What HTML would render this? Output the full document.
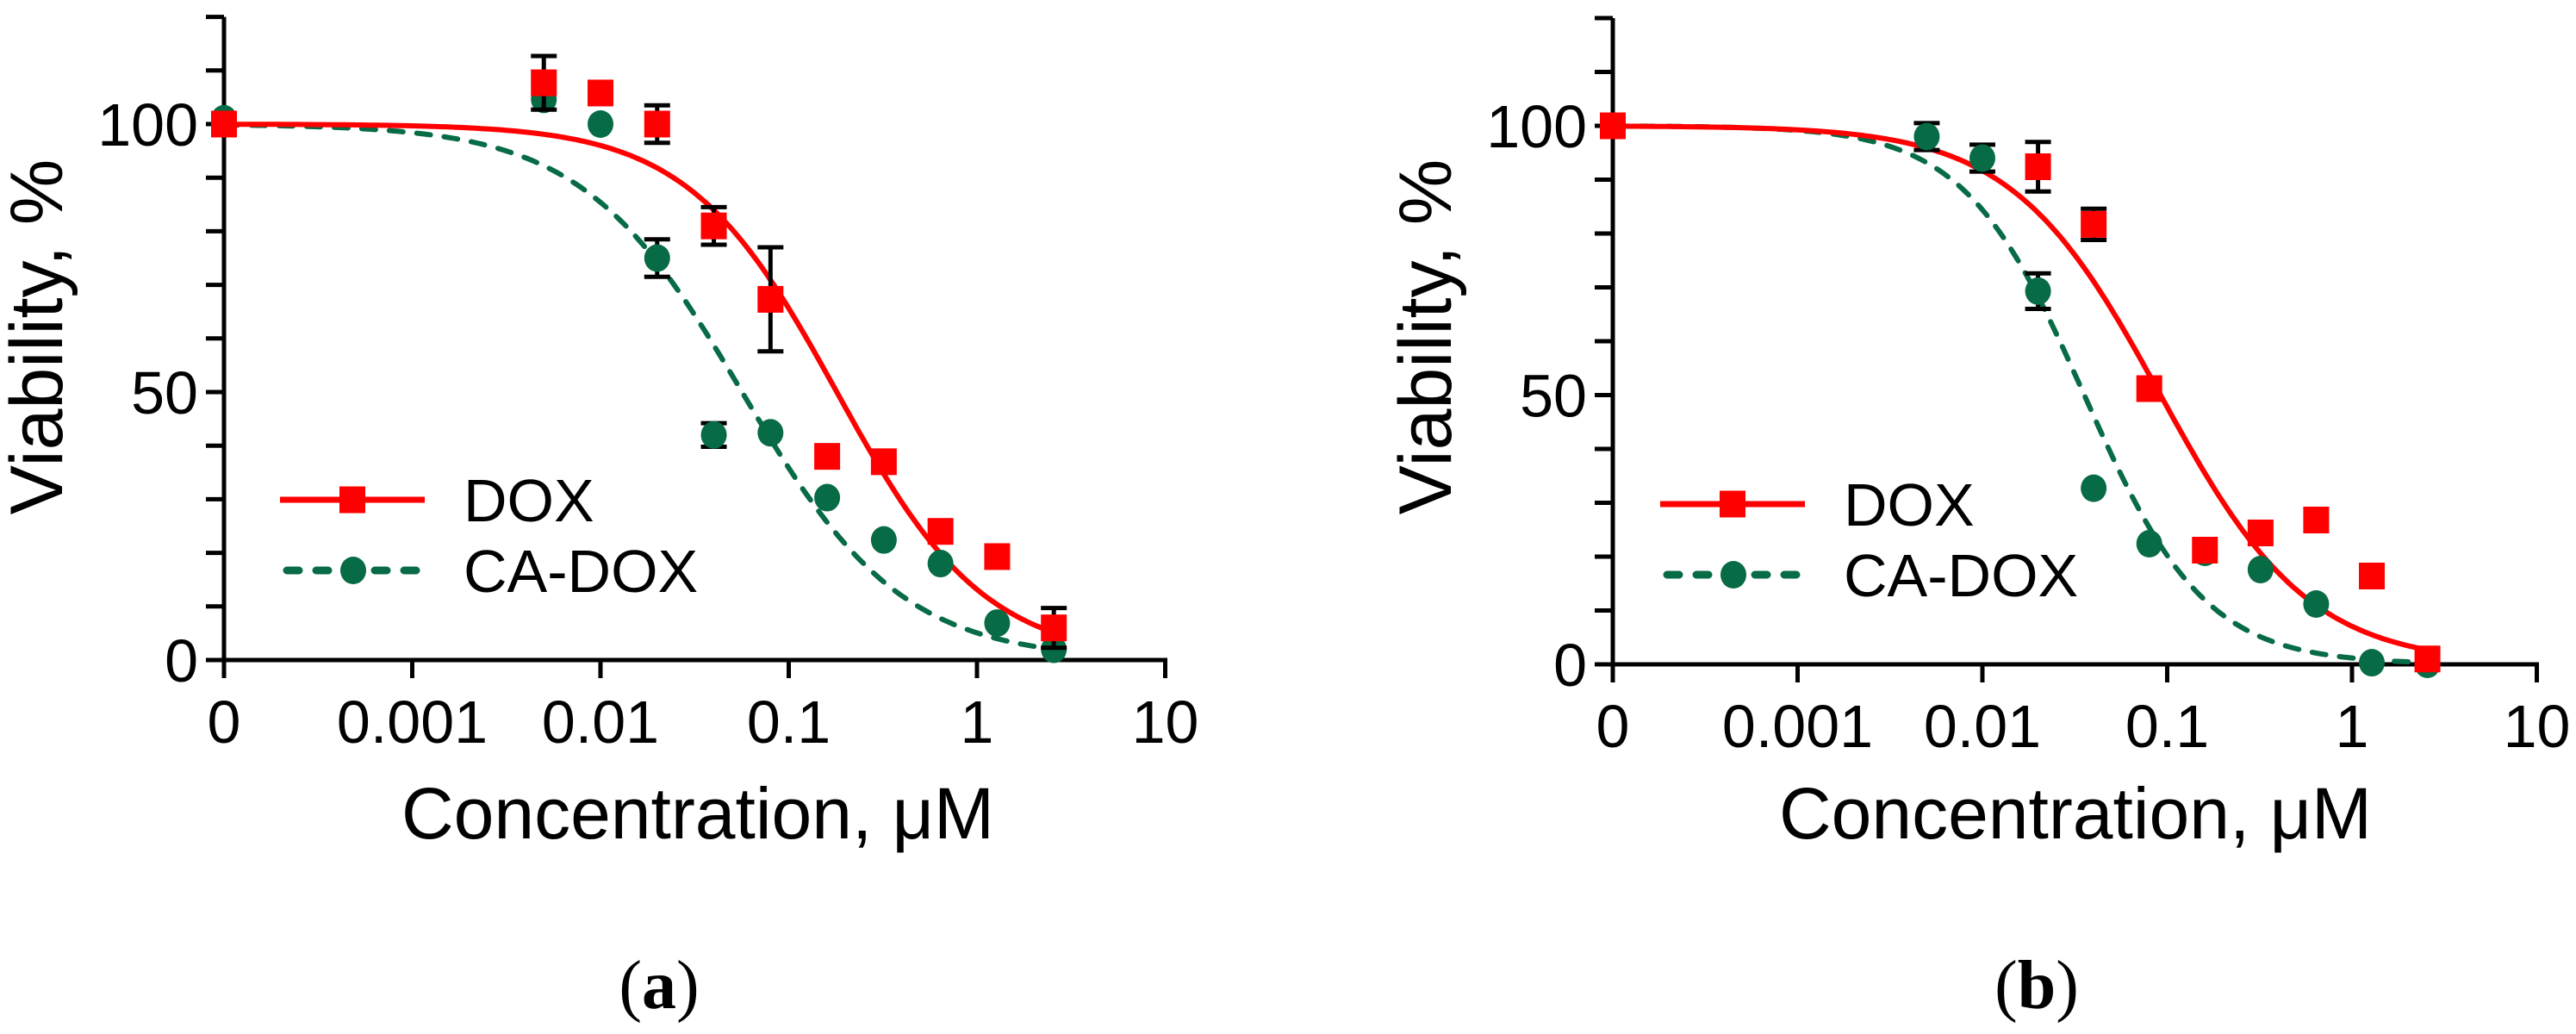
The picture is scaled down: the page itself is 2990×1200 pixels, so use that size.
<!DOCTYPE html>
<html><head><meta charset="utf-8"><style>
html,body{margin:0;padding:0;background:#fff;}
svg{display:block;}
text{font-family:"Liberation Sans",Arial,sans-serif;fill:#000;}
</style></head>
<body>
<svg id="fig" width="2990" height="1200" viewBox="0 0 2990 1200" xmlns="http://www.w3.org/2000/svg"></svg>
<script>
// ---- data ----
const concs = [0.0001, 0.005, 0.01, 0.02, 0.04, 0.08, 0.16, 0.32, 0.64, 1.28, 2.56];
const xTickVals = [0.0001, 0.001, 0.01, 0.1, 1, 10];
const xTickLabels = ["0", "0.001", "0.01", "0.1", "1", "10"];
const yTickVals = [0, 50, 100];
const yTickLabels = ["0", "50", "100"];
// panel a
const aDox = [100, 107.7, 105.8, 100, 81, 67.3, 38, 37, 24, 19.3, 6];
const aDoxErr = [0, 5, 0, 3.5, 3.5, 9.7, 0, 0, 0, 0, 3.7];
const aCa = [101, 104.6, 100, 75, 42, 42.4, 30.3, 22.4, 18, 6.9, 2];
const aCaErr = [0, 0, 0, 3.5, 2.2, 0, 0, 0, 0, 0, 0];
const aDoxFit = [100, 0, 0.18, 1.1];   // top, bottom, IC50, hill
const aCaFit = [100, 0, 0.0565, 1.02];
// panel b
const bDox = [100, null, null, 92.4, 81.7, 51.2, 21.2, 24.4, 26.8, 16.4, 1];
const bDoxErr = [0, 0, 0, 4.6, 2.9, 0, 0, 0, 0, 0, 0];
const bCa = [null, 98, 94, 69.3, 32.7, 22.4, 20.8, 17.6, 11.2, 0.3, 0];
const bCaErr = [0, 2.5, 2.5, 3.3, 0, 0, 0, 0, 0, 0, 0];
const bDoxFit = [100, 0, 0.092, 1.08];
const bCaFit = [100, 0, 0.0356, 1.33];

const NS = "http://www.w3.org/2000/svg";
const svg = document.getElementById("fig");
function el(tag, attrs, parent) {
  const e = document.createElementNS(NS, tag);
  for (const k in attrs) e.setAttribute(k, attrs[k]);
  (parent || svg).appendChild(e);
  return e;
}
const RED = "#ff0000", GREEN = "#076b45";

function panel(cfg) {
  const g = el("g", {});
  
  
  const X = v => cfg.x0 + cfg.dec * (Math.log10(v) + 4);
  const Y = v => cfg.y0 - cfg.ppu * v;
  const hill = (p, c) => p[1] + (p[0] - p[1]) / (1 + Math.pow(c / p[2], p[3]));

  // axes
  const ax = el("g", {}, g);
  
  
  el("line", {x1: cfg.x0, y1: Y(0), x2: cfg.x0, y2: Y(120), stroke: "#000", "stroke-width": 5}, ax);
  el("line", {x1: cfg.x0 - 21, y1: Y(0), x2: X(10) + 2.5, y2: Y(0), stroke: "#000", "stroke-width": 5}, ax);
  for (let v = 0; v <= 120; v += 10) {
    el("line", {x1: cfg.x0 - 21, y1: Y(v), x2: cfg.x0, y2: Y(v), stroke: "#000", "stroke-width": 5}, ax);
  }
  yTickVals.forEach((v, i) => {
    const t = el("text", {x: cfg.x0 - 30, y: Y(v) + 25, "font-size": 70, "text-anchor": "end", transform: ""}, ax);
    
    
    t.textContent = yTickLabels[i];
  });
  xTickVals.forEach((v, i) => {
    el("line", {x1: X(v), y1: Y(0), x2: X(v), y2: Y(0) + 21, stroke: "#000", "stroke-width": 5}, ax);
    const t = el("text", {x: X(v), y: Y(0) + 96, "font-size": 70, "text-anchor": "middle"}, ax);
    
    
    t.textContent = xTickLabels[i];
  });
  const yl = el("text", {x: 0, y: 0, "font-size": 86, "text-anchor": "middle",
    transform: `translate(${cfg.ylx},391) rotate(-90)`}, g);
  
  
  yl.textContent = "Viability, %";
  const xl = el("text", {x: cfg.xlx, y: 973, "font-size": 84, "text-anchor": "middle"}, g);
  
  
  xl.textContent = "Concentration, μM";
  const cap = el("text", {x: cfg.xlx - 45, y: 1170, "font-size": 80, "text-anchor": "middle",
    style: 'font-family:"Liberation Serif",serif'}, g);
  
  
  cap.innerHTML = '(<tspan font-weight="bold">' + cfg.label + '</tspan>)';

  // fit curves
  function curve(p, color, dash, name) {
    let d = "";
    const l0 = -4, l1 = Math.log10(2.56);
    for (let i = 0; i <= 200; i++) {
      const c = Math.pow(10, l0 + (l1 - l0) * i / 200);
      d += (i ? "L" : "M") + X(c).toFixed(1) + "," + Y(hill(p, c)).toFixed(1);
    }
    const pth = el("path", {d: d, fill: "none", stroke: color, "stroke-width": 6,
      "stroke-dasharray": dash || "none", "stroke-linecap": dash ? "round" : "butt"}, g);
    
    
  }
  curve(cfg.caFit, GREEN, "16,16", "ca-dox-fit-curve");
  curve(cfg.doxFit, RED, null, "dox-fit-curve");

  function errs(vals, err, name) {
    vals.forEach((v, i) => {
      if (v == null || !err[i]) return;
      const x = X(concs[i]);
      const eg = el("g", {stroke: "#000", "stroke-width": 5}, g);
      
      
      el("line", {x1: x, y1: Y(v - err[i]), x2: x, y2: Y(v + err[i])}, eg);
      el("line", {x1: x - 15, y1: Y(v - err[i]), x2: x + 15, y2: Y(v - err[i])}, eg);
      el("line", {x1: x - 15, y1: Y(v + err[i]), x2: x + 15, y2: Y(v + err[i])}, eg);
    });
  }
  errs(cfg.ca, cfg.caErr, "ca-dox-error-bar");
  cfg.ca.forEach((v, i) => {
    if (v == null) return;
    const c = el("ellipse", {cx: X(concs[i]), cy: Y(v), rx: 15, ry: 16, fill: GREEN}, g);
    
    
  });
  errs(cfg.dox, cfg.doxErr, "dox-error-bar");
  cfg.dox.forEach((v, i) => {
    if (v == null) return;
    const r = el("rect", {x: X(concs[i]) - 15, y: Y(v) - 15.5, width: 30, height: 31, fill: RED}, g);
    
    
  });

  // legend
  const lg = el("g", {}, g);
  
  
  const e1 = el("g", {}, lg);
  
  
  el("line", {x1: cfg.lgx, y1: cfg.lgy, x2: cfg.lgx + 168, y2: cfg.lgy, stroke: RED, "stroke-width": 7}, e1);
  el("rect", {x: cfg.lgx + 69, y: cfg.lgy - 15.5, width: 30, height: 31, fill: RED}, e1);
  const t1 = el("text", {x: cfg.lgx + 213, y: cfg.lgy + 25, "font-size": 70}, e1);
  t1.textContent = "DOX";
  const e2 = el("g", {}, lg);
  
  
  el("line", {x1: cfg.lgx + 8, y1: cfg.lgy + 82, x2: cfg.lgx + 162, y2: cfg.lgy + 82, stroke: GREEN, "stroke-width": 9,
    "stroke-dasharray": "14,20", "stroke-linecap": "round"}, e2);
  el("ellipse", {cx: cfg.lgx + 85, cy: cfg.lgy + 82, rx: 15, ry: 16, fill: GREEN}, e2);
  const t2 = el("text", {x: cfg.lgx + 213, y: cfg.lgy + 107, "font-size": 70}, e2);
  t2.textContent = "CA-DOX";
}

panel({name: "panel-a", label: "a", x0: 260, dec: 218.5, y0: 766, ppu: 6.22, ylx: 72, xlx: 810, lgx: 325, lgy: 580,
  dox: aDox, doxErr: aDoxErr, ca: aCa, caErr: aCaErr, doxFit: aDoxFit, caFit: aCaFit});
panel({name: "panel-b", label: "b", x0: 1872, dec: 214.5, y0: 771, ppu: 6.25, ylx: 1684, xlx: 2409, lgx: 1927, lgy: 585,
  dox: bDox, doxErr: bDoxErr, ca: bCa, caErr: bCaErr, doxFit: bDoxFit, caFit: bCaFit});
</script>
</body></html>
